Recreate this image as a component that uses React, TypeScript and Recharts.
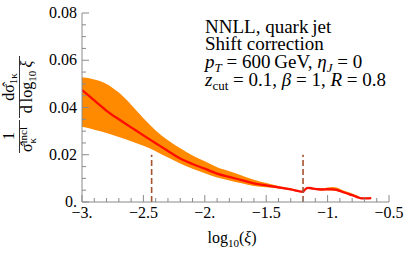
import React from 'react';
import { ComposedChart, Area, Line, XAxis, YAxis, ReferenceLine } from 'recharts';

// log10(xi) sample positions
const xs = [-3.0, -2.9, -2.8, -2.7, -2.6, -2.5, -2.4, -2.3, -2.2, -2.1, -2.0, -1.9, -1.8, -1.7, -1.6, -1.5, -1.4, -1.3, -1.2,
  -1.19, -1.16, -1.12, -1.08, -1.04, -1.0, -0.96, -0.92, -0.88, -0.84, -0.8, -0.76, -0.72, -0.68, -0.645];
// central (red) curve
const center = [0.0474, 0.0430, 0.0386, 0.0350, 0.0316, 0.0282, 0.0249, 0.0216, 0.0184, 0.0161, 0.0141, 0.0120, 0.0106, 0.0093, 0.0079, 0.0070, 0.0062, 0.0053, 0.0043,
  0.0050, 0.0060, 0.0057, 0.0054, 0.0053, 0.0054, 0.0053, 0.0050, 0.0043, 0.0036, 0.0029, 0.0021, 0.0015, 0.0015, 0.0016];
// uncertainty band
const lower = [0.0318, 0.0306, 0.0292, 0.0275, 0.0257, 0.0238, 0.0215, 0.0188, 0.0163, 0.0141, 0.0122, 0.0104, 0.0091, 0.0079, 0.0068, 0.0062, 0.0057, 0.0050, 0.0040,
  0.0047, 0.0057, 0.0054, 0.0051, 0.0050, 0.0050, 0.0049, 0.0046, 0.0039, 0.0032, 0.0025, 0.0018, 0.0013, 0.0013, 0.0014];
const upper = [0.0528, 0.0519, 0.0500, 0.0463, 0.0412, 0.0355, 0.0303, 0.0261, 0.0227, 0.0197, 0.0172, 0.0147, 0.0130, 0.0112, 0.0094, 0.0080, 0.0068, 0.0058, 0.0046,
  0.0053, 0.0063, 0.0060, 0.0058, 0.0058, 0.0061, 0.0063, 0.0060, 0.0051, 0.0043, 0.0036, 0.0027, 0.0019, 0.0018, 0.0018];

// dashed vertical markers
const markerX = [-2.433, -1.2];
const markerTop = [0.0200, 0.0200];

const xMajor = [-3, -2.5, -2, -1.5, -1, -0.5];
const xLabels = ['\u22123.', '\u22122.5', '\u22122.', '\u22121.5', '\u22121.', '\u22120.5'];
const yMajor = [0, 0.02, 0.04, 0.06, 0.08];
const yLabels = ['0.', '0.02', '0.04', '0.06', '0.08'];

const xTicks: number[] = [];
for (let i = 0; i <= 25; i++) xTicks.push(Math.round((-3 + i * 0.1) * 1000) / 1000);
const yTicks: number[] = [];
for (let i = 0; i <= 16; i++) yTicks.push(Math.round(i * 0.005 * 10000) / 10000);

const data = xs.map((x, i) => ({ x, c: center[i], band: [lower[i], upper[i]] }));

const FRAME = '#8a8a8a';
const FONT = '"Liberation Serif", "Times New Roman", serif';
const TICK_FS = 16;

const isMajor = (arr: number[], v: number) => arr.findIndex((m) => Math.abs(m - v) < 1e-6);

const BottomTick = (p: any) => {
  const i = isMajor(xMajor, p.payload.value);
  return (
    <g>
      <line x1={p.x} x2={p.x} y1={p.y} y2={p.y - (i >= 0 ? 7 : 4)} stroke={FRAME} strokeWidth={1} />
      {i >= 0 && (
        <text x={p.x} y={p.y + 16} textAnchor="middle" fontFamily={FONT} fontSize={TICK_FS} fill="#000">
          {xLabels[i]}
        </text>
      )}
    </g>
  );
};
const TopTick = (p: any) => {
  const i = isMajor(xMajor, p.payload.value);
  return <line x1={p.x} x2={p.x} y1={p.y} y2={p.y + (i >= 0 ? 7 : 4)} stroke={FRAME} strokeWidth={1} />;
};
const LeftTick = (p: any) => {
  const i = isMajor(yMajor, p.payload.value);
  return (
    <g>
      <line x1={p.x} x2={p.x + (i >= 0 ? 7 : 4)} y1={p.y} y2={p.y} stroke={FRAME} strokeWidth={1} />
      {i >= 0 && (
        <text x={p.x - 5} y={p.y + 5} textAnchor="end" fontFamily={FONT} fontSize={TICK_FS} fill="#000">
          {yLabels[i]}
        </text>
      )}
    </g>
  );
};
const RightTick = (p: any) => {
  const i = isMajor(yMajor, p.payload.value);
  return <line x1={p.x} x2={p.x - (i >= 0 ? 7 : 4)} y1={p.y} y2={p.y} stroke={FRAME} strokeWidth={1} />;
};

export default function App() {
  return (
    <div style={{ position: 'absolute', left: 0, top: 0, width: 407, height: 256, background: '#fff' }}>
      <ComposedChart width={407} height={256} data={data} margin={{ top: 13, right: 18, bottom: 0, left: 0 }}>
        <XAxis dataKey="x" type="number" domain={[-3, -0.5]} allowDataOverflow ticks={xTicks} interval={0}
          tick={BottomTick} tickLine={false} tickSize={0} tickMargin={0} height={54}
          axisLine={{ stroke: FRAME }} />
        <XAxis xAxisId="top" orientation="top" dataKey="x" type="number" domain={[-3, -0.5]} allowDataOverflow
          ticks={xTicks} interval={0} tick={TopTick} tickLine={false} tickSize={0} tickMargin={0} height={0}
          axisLine={{ stroke: FRAME }} />
        <YAxis type="number" domain={[0, 0.08]} allowDataOverflow ticks={yTicks} interval={0} tick={LeftTick}
          tickLine={false} tickSize={0} tickMargin={0} width={82} axisLine={{ stroke: FRAME }} />
        <YAxis yAxisId="right" orientation="right" type="number" domain={[0, 0.08]} allowDataOverflow ticks={yTicks}
          interval={0} tick={RightTick} tickLine={false} tickSize={0} tickMargin={0} width={0}
          axisLine={{ stroke: FRAME }} />
        <Area dataKey="band" type="monotone" stroke="none" fill="#FF8A00" fillOpacity={1} isAnimationActive={false} />
        <Line dataKey="c" type="monotone" stroke="#FF0D00" strokeWidth={2.3} dot={false} isAnimationActive={false} />
        {markerX.map((mx, i) => (
          <ReferenceLine key={i} segment={[{ x: mx, y: 0 }, { x: mx, y: markerTop[i] }]}
            stroke="#A5522F" strokeWidth={1.6} strokeDasharray="6 3" />
        ))}
      </ComposedChart>
      <svg width={407} height={256} style={{ position: 'absolute', left: 0, top: 0, pointerEvents: 'none' }}
        fontFamily={FONT}>
        {/* annotation */}
        <g fontSize={19} fill="#000">
          <text x={205} y={33}>NNLL, quark{'\u2009'}jet</text>
          <text x={205} y={50}>Shift correction</text>
          <text x={205} y={68}>
            <tspan fontStyle="italic">p</tspan>
            <tspan fontStyle="italic" fontSize={13} dy={4}>T</tspan>
            <tspan dy={-4}> = 600{'\u2009'}GeV, </tspan>
            <tspan fontStyle="italic">η</tspan>
            <tspan fontStyle="italic" fontSize={13} dy={4}>J</tspan>
            <tspan dy={-4}> = 0</tspan>
          </text>
          <text x={205} y={86}>
            <tspan fontStyle="italic">z</tspan>
            <tspan fontSize={13} dy={4}>cut</tspan>
            <tspan dy={-4}> = 0.1, </tspan>
            <tspan fontStyle="italic">β</tspan>
            <tspan> = 1, </tspan>
            <tspan fontStyle="italic">R</tspan>
            <tspan> = 0.8</tspan>
          </text>
        </g>
        {/* x axis label */}
        <text x={232} y={243} textAnchor="middle" fontSize={16} fill="#000">
          log<tspan fontSize={11} dy={4}>10</tspan><tspan dy={-4}>(</tspan><tspan fontStyle="italic">ξ</tspan>)
        </text>
        {/* y axis label, rotated */}
        <g transform="rotate(-90)" fontSize={16} fill="#000">
          <text x={-136} y={14} textAnchor="middle">1</text>
          <line x1={-153} x2={-120} y1={19.5} y2={19.5} stroke="#000" strokeWidth={0.8} />
          <text x={-152} y={32}>σ̂</text>
          <text x={-143.5} y={27} fontSize={11}>incl</text>
          <text x={-143.5} y={36} fontSize={11}>κ</text>

          <text x={-87} y={14} textAnchor="middle">
            dσ̂<tspan fontSize={11} dy={3}>1κ</tspan>
          </text>
          <line x1={-118} x2={-56} y1={19.5} y2={19.5} stroke="#000" strokeWidth={0.8} />
          <text x={-87} y={32} textAnchor="middle">
            d{'\u2009'}log<tspan fontSize={11} dy={4}>10</tspan><tspan dy={-4}>{'\u2009'}</tspan><tspan fontStyle="italic">ξ</tspan>
          </text>
        </g>
      </svg>
    </div>
  );
}
